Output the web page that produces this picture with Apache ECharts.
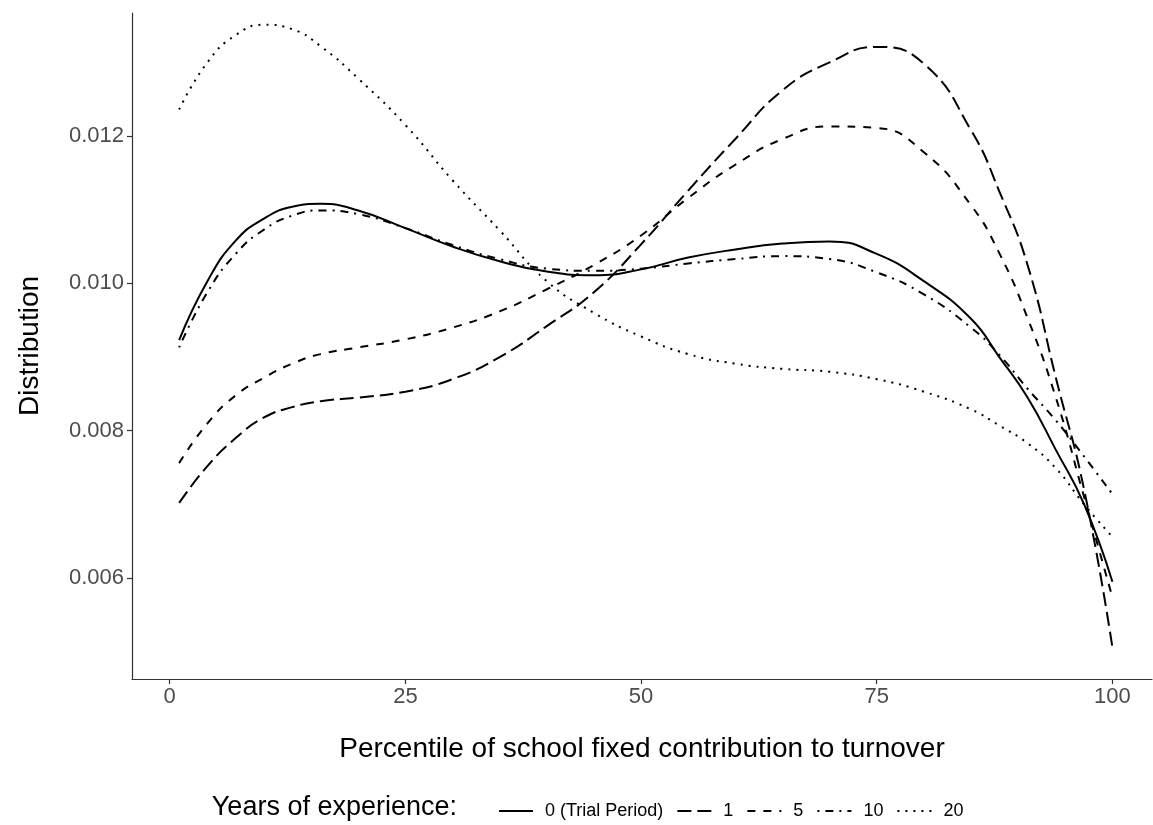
<!DOCTYPE html>
<html>
<head>
<meta charset="utf-8">
<script src="https://cdn.jsdelivr.net/npm/echarts@6/dist/echarts.min.js"></script>
<style>
html,body{margin:0;padding:0;background:#fff;}
#c{width:1153px;height:825px;}
</style>
</head>
<body>
<div id="c"></div>
<script>
const xs = [1, 4, 7, 10, 13, 16, 20, 25, 30, 35, 40, 45, 50, 55, 60, 65, 70, 75, 80, 85, 88, 91, 94, 97, 100];
const exp0  = [0.00923,0.01003,0.01058,0.01088,0.01104,0.01108,0.01099,0.01075,0.01050,0.01030,0.01016,0.01011,0.01019,0.01035,0.01046,0.01054,0.01057,0.01040,0.01003,0.00952,0.00900,0.00845,0.00774,0.00700,0.00595];
const exp1  = [0.00702,0.00752,0.00790,0.00818,0.00832,0.00840,0.00845,0.00853,0.00870,0.00900,0.00942,0.00988,0.01053,0.01126,0.01196,0.01262,0.01300,0.01321,0.01298,0.01208,0.01125,0.01025,0.00872,0.00720,0.00506];
const exp5  = [0.00756,0.00810,0.00848,0.00872,0.00891,0.00904,0.00913,0.00924,0.00940,0.00962,0.00992,0.01025,0.01065,0.01116,0.01161,0.01196,0.01213,0.01211,0.01178,0.01106,0.01041,0.00953,0.00845,0.00710,0.00574];
const exp10 = [0.00913,0.00988,0.01040,0.01073,0.01092,0.01099,0.01094,0.01075,0.01052,0.01033,0.01020,0.01017,0.01020,0.01027,0.01033,0.01037,0.01033,0.01015,0.00985,0.00940,0.00903,0.00857,0.00814,0.00765,0.00714];
const exp20 = [0.01236,0.01300,0.01337,0.01351,0.01345,0.01322,0.01278,0.01215,0.01140,0.01072,0.01003,0.00960,0.00928,0.00904,0.00891,0.00884,0.00880,0.00870,0.00853,0.00829,0.00807,0.00783,0.00749,0.00700,0.00656];
const seriesNames = ['0 (Trial Period)', '1', '5', '10', '20'];
const legendTitle = 'Years of experience:';
const xTicks = [0, 25, 50, 75, 100];
const yTicks = [0.006, 0.008, 0.010, 0.012];

const dashes = ['solid', [14, 6], [8, 8], [2, 6, 8, 6], [2, 6]];
const values = [exp0, exp1, exp5, exp10, exp20];
const FONT = 'Liberation Sans, Arial, Helvetica, sans-serif';

const chart = echarts.init(document.getElementById('c'), null, {renderer: 'canvas'});
const series = seriesNames.map((n, i) => ({
  name: n,
  type: 'line',
  data: xs.map((x, j) => [x, values[i][j]]),
  smooth: 0.5,
  showSymbol: false,
  symbol: 'none',
  lineStyle: {color: '#000', width: 2, type: dashes[i], cap: 'butt'},
  itemStyle: {color: '#000'},
  emphasis: {disabled: true},
  animation: false
}));

chart.setOption({
  animation: false,
  backgroundColor: '#fff',
  grid: {left: 132, right: 1, top: 13, bottom: 146, containLabel: false},
  xAxis: {
    type: 'value', min: -4.0, max: 104.2,
    name: 'Percentile of school fixed contribution to turnover',
    nameLocation: 'middle', nameGap: 56,
    nameTextStyle: {fontFamily: FONT, fontSize: 28, color: '#000'},
    axisLine: {show: true, onZero: false, lineStyle: {color: '#333', width: 1.2}},
    axisTick: {show: true, length: 5, customValues: xTicks, lineStyle: {color: '#333', width: 1.2}},
    axisLabel: {customValues: xTicks, margin: 7, fontFamily: FONT, fontSize: 22, color: '#4d4d4d'},
    splitLine: {show: false}
  },
  yAxis: {
    type: 'value', min: 0.00463, max: 0.01367,
    name: 'Distribution',
    nameLocation: 'middle', nameGap: 88, nameRotate: 90,
    nameTextStyle: {fontFamily: FONT, fontSize: 28, color: '#000'},
    axisLine: {show: true, onZero: false, lineStyle: {color: '#333', width: 1.2}},
    axisTick: {show: true, length: 5, customValues: yTicks, lineStyle: {color: '#333', width: 1.2}},
    axisLabel: {customValues: yTicks, margin: 8, fontFamily: FONT, fontSize: 22, color: '#4d4d4d',
      formatter: v => v.toFixed(3)},
    splitLine: {show: false}
  },
  legend: {
    data: seriesNames,
    left: 493, top: 797,
    itemWidth: 34, itemHeight: 14, itemGap: 13,
    itemStyle: {opacity: 0},
    textStyle: {fontFamily: FONT, fontSize: 18, color: '#000', padding: [0, 0, 0, 7]},
    selectedMode: false
  },
  graphic: [{
    type: 'text', right: 1153 - 457, top: 794,
    style: {text: legendTitle, font: '27px "Liberation Sans", Arial', fill: '#000'}
  }],
  series: series
});
</script>
</body>
</html>
